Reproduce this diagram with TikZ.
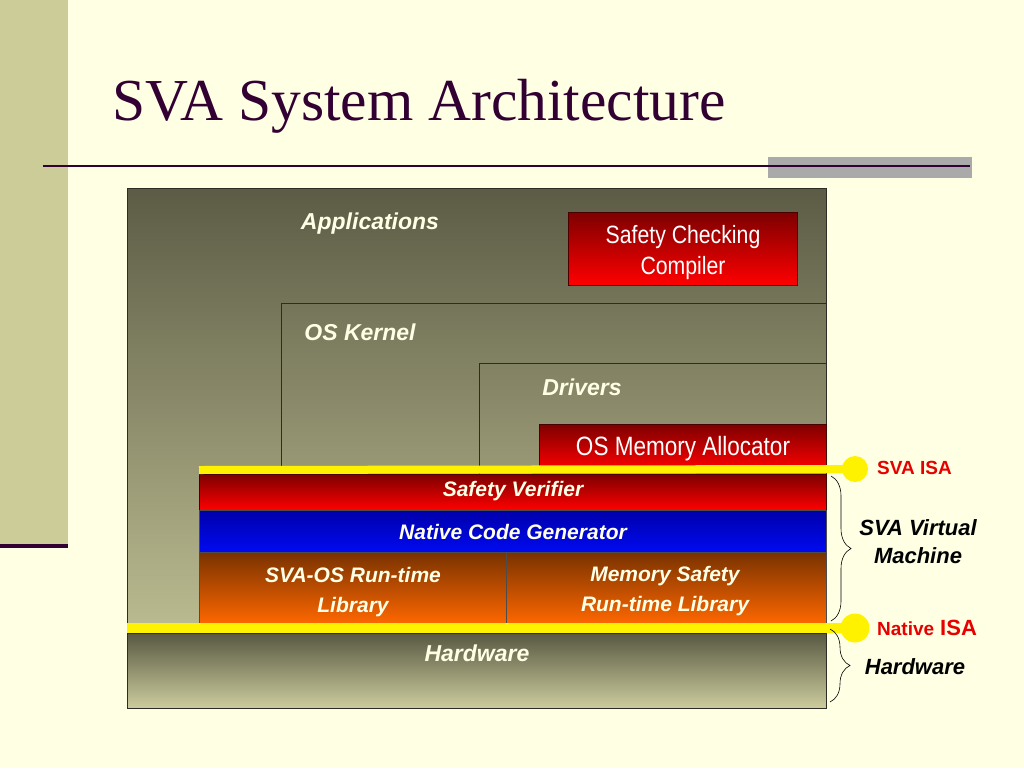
\documentclass[tikz,border=0pt]{standalone}
\usepackage{fontspec}
\setmainfont{Liberation Sans}
\newfontfamily\titlefont{Liberation Serif}
\newfontfamily\narrowfont[FakeStretch=0.85]{Liberation Sans}
\usetikzlibrary{decorations.pathreplacing}
\definecolor{bg}{RGB}{255,255,228}
\definecolor{sidebar}{RGB}{204,204,153}
\definecolor{plum}{RGB}{51,0,51}
\definecolor{greybar}{RGB}{170,170,170}
\definecolor{olivetop}{RGB}{92,92,70}
\definecolor{olivebot}{RGB}{204,204,158}
\definecolor{redtop}{RGB}{125,0,0}
\definecolor{redbot}{RGB}{255,0,0}
\definecolor{bluetop}{RGB}{0,0,170}
\definecolor{bluebot}{RGB}{0,10,240}
\definecolor{orangetop}{RGB}{120,50,0}
\definecolor{orangebot}{RGB}{255,104,0}
\definecolor{lighttext}{RGB}{255,255,230}
\definecolor{isared}{RGB}{230,0,0}
\definecolor{edge}{RGB}{45,45,35}
\begin{document}
\begin{tikzpicture}[x=1pt,y=-1pt,
  blk/.style={rectangle, inner sep=0pt, outer sep=0pt, draw=edge, line width=1pt},
  olive/.style={blk, shading=axis, top color=olivetop, bottom color=olivebot},
  redbox/.style={blk, shading=axis, top color=redtop, bottom color=redbot, draw=redtop!60!black},
  bluebox/.style={blk, shading=axis, top color=bluetop, bottom color=bluebot, draw=black!70},
  orangebox/.style={blk, shading=axis, top color=orangetop, bottom color=orangebot, draw=black!70},
  lbl/.style={text=lighttext, font={\fontsize{23}{27}\selectfont\bfseries\itshape}, inner sep=0pt},
  stacklbl/.style={text=lighttext, align=center, font={\fontsize{21}{30}\selectfont\bfseries\itshape}, inner sep=0pt},
  narrowlbl/.style={text=white, align=center, font={\narrowfont\fontsize{25}{31}\selectfont}, inner sep=0pt},
  sidelbl/.style={text=black, align=center, font={\fontsize{22}{28}\selectfont\bfseries\itshape}, inner sep=0pt},
  isalbl/.style={text=isared, font={\bfseries}, inner sep=0pt},
  isaline/.style={draw=yellow, line cap=butt},
  isadot/.style={circle, fill=yellow, inner sep=0pt, outer sep=0pt},
  bracestyle/.style={draw=black, line width=0.6pt, decorate, decoration={brace, amplitude=20pt}}
]
\useasboundingbox (0,0) rectangle (1024,768);
\fill[bg] (0,0) rectangle (1024,768);
% side bar and rules
\fill[sidebar] (0,0) rectangle (68,545);
\draw[plum, line width=4pt] (0,546) -- (68,546);
\fill[greybar] (768,157) rectangle (972,178);
\draw[plum, line width=2.5pt] (43,166) -- (970,166);
\node[anchor=base west, inner sep=0pt, text=plum, font={\titlefont\fontsize{59.5}{62}\selectfont}] (title) at (112,120) {SVA System Architecture};

% layered boxes
\node[olive, minimum width=699pt, minimum height=520pt] (apps) at (476.5,448) {};
\node[blk, minimum width=545pt, minimum height=171pt] (kernel) at (553.5,388.5) {};
\node[blk, minimum width=347pt, minimum height=111pt] (drivers) at (652.5,418.5) {};
\node[redbox, minimum width=287pt, minimum height=46pt] (alloc) at (682.5,447) {};
\node[redbox, minimum width=229pt, minimum height=73pt] (compiler) at (682.5,248.5) {};

\node[redbox, minimum width=627pt, minimum height=36pt] (sv) at (512.5,492) {};
\node[bluebox, minimum width=627pt, minimum height=42pt] (ncg) at (512.5,531) {};
\node[orangebox, minimum width=307pt, minimum height=72pt] (osrt) at (352.5,588) {};
\node[orangebox, minimum width=320pt, minimum height=72pt] (msrt) at (666,588) {};
\node[olive, minimum width=699pt, minimum height=75pt, top color={rgb,255:red,88;green,88;blue,66}] (hw) at (476.5,670.5) {};

% ISA lines
\node[isadot, minimum size=26pt] (svadot) at (855,469) {};
\node[isadot, minimum size=29pt] (natdot) at (855,628) {};
\coordinate (svastart) at (199,470);
\coordinate (natstart) at (127,628);
\draw[isaline, line width=8pt] (svastart) -- (svadot.center);
\draw[isaline, line width=10pt] (natstart) -- (natdot.center);

% labels inside
\node[lbl] (appslbl) at (370,224) {Applications};
\node[lbl] (kernellbl) at (360,332) {OS Kernel};
\node[lbl] (driverslbl) at (582,387) {Drivers};
\node[lbl] (hwlbl) at (477,653) {Hardware};
\node[narrowlbl] (compilerlbl) at (683,253) {Safety Checking\\Compiler};
\node[narrowlbl, font={\narrowfont\fontsize{26.5}{31}\selectfont}] (alloclbl) at (683,449) {OS Memory Allocator};
\node[stacklbl] (svlbl) at (513,491) {Safety Verifier};
\node[stacklbl] (ncglbl) at (513,532) {Native Code Generator};
\node[stacklbl] (osrtlbl) at (353,592) {SVA-OS Run-time\\Library};
\node[stacklbl] (msrtlbl) at (665,591) {Memory Safety\\Run-time Library};

% right side
\node[isalbl, anchor=west, font={\fontsize{19}{22}\selectfont\bfseries}] (svaisa) at (877,468) {SVA ISA};
\node[isalbl, anchor=base west] (natisa) at (877,635) {{\fontsize{19}{22}\selectfont Native}\hspace{6pt}{\fontsize{22}{24}\selectfont ISA}};
\coordinate (b1top) at (831,476);
\coordinate (b1bot) at (831,621);
\coordinate (b2top) at (830,629);
\coordinate (b2bot) at (830,702);
\draw[bracestyle] (b1top) -- (b1bot);
\draw[bracestyle] (b2top) -- (b2bot);
\node[sidelbl] (vmlbl) at (918,542) {SVA Virtual\\Machine};
\node[sidelbl] (hwside) at (915,667) {Hardware};
\end{tikzpicture}
\end{document}
